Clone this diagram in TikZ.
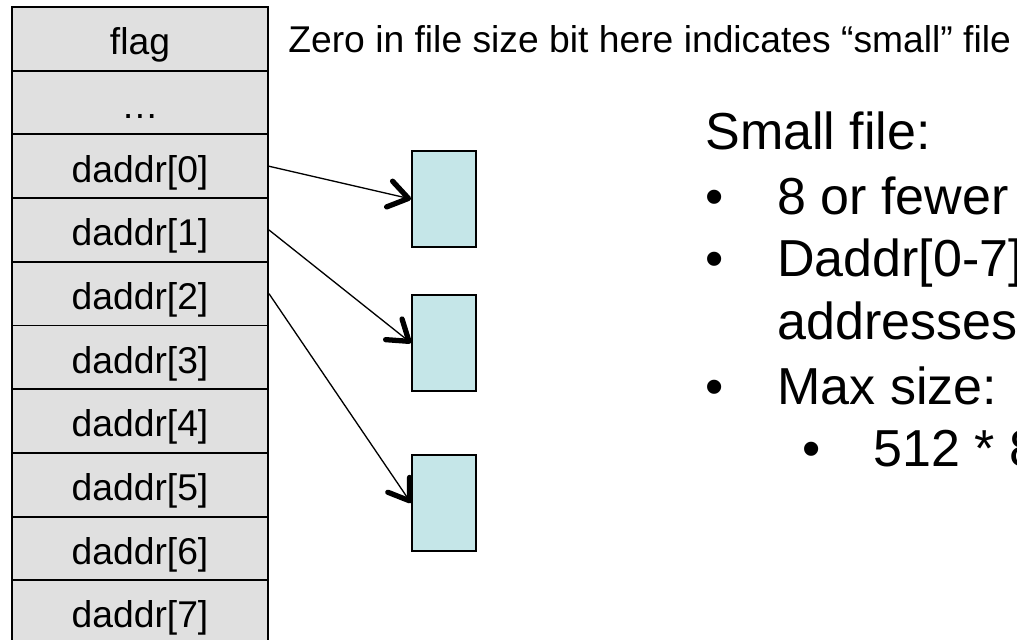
\documentclass[tikz,border=0pt]{standalone}
\usepackage{fontspec}
\setmainfont{Liberation Sans}
\usetikzlibrary{arrows.meta}
\definecolor{cellgray}{HTML}{E0E0E0}
\definecolor{blockblue}{HTML}{C5E6E8}
\tikzset{
  cell/.style={draw, line width=1.1pt, fill=cellgray, minimum width=5.12cm,
    minimum height=1.274cm, inner sep=0pt, text height=19pt, text depth=1pt,
    font=\fontsize{21.2}{25}\selectfont},
  block/.style={draw, line width=1.1pt, fill=blockblue, minimum width=1.28cm,
    minimum height=1.92cm, inner sep=0pt},
  ptr/.style={line width=0.75pt,
    -{Straight Barb[length=11pt,width=15pt,line width=3pt,round]}},
  note/.style={font=\fontsize{21.2}{25}\selectfont, inner sep=0pt, anchor=base west},
  big/.style={font=\fontsize{29.6}{35}\selectfont, inner sep=0pt, anchor=base west},
}

\begin{document}
\begin{tikzpicture}
  \path[use as bounding box, clip] (0,0) rectangle (20.34,-12.8);

  % inode fields, one row each
  \foreach \lbl [count=\i from 0] in {flag, …, daddr[0], daddr[1], daddr[2],
      daddr[3], daddr[4], daddr[5], daddr[6], daddr[7]}
    \node[cell] (row\i) at (2.8,{-0.777-1.274*\i}) {\lbl};

  % data blocks
  \node[block] (blk0) at (8.88,-3.98) {};
  \node[block] (blk1) at (8.88,-6.86) {};
  \node[block] (blk2) at (8.88,-10.06) {};

  \draw[ptr] (row2.east) -- (blk0.west);
  \draw[ptr] (row3.east) -- (blk1.west);
  \draw[ptr] (row4.east) -- (blk2.west);

  \node[note] (flagnote) at (5.76,-1.06)
    {Zero in file size bit here indicates “small” file};

  % bullet list
  \node[big] (head) at (14.1,-3.0) {Small file:};
  \node[big] (b1) at (14.1,-4.30) {•};
  \node[big] (t1) at (15.54,-4.30) {8 or fewer};
  \node[big] (b2) at (14.1,-5.54) {•};
  \node[big] (t2) at (15.54,-5.54) {Daddr[0-7]};
  \node[big] (t2b) at (15.54,-6.80) {addresses};
  \node[big] (b3) at (14.1,-8.10) {•};
  \node[big] (t3) at (15.54,-8.10) {Max size:};
  \node[big] (b4) at (16.04,-9.34) {•};
  \node[big] (t4) at (17.46,-9.34) {512 * 8};
\end{tikzpicture}
\end{document}
